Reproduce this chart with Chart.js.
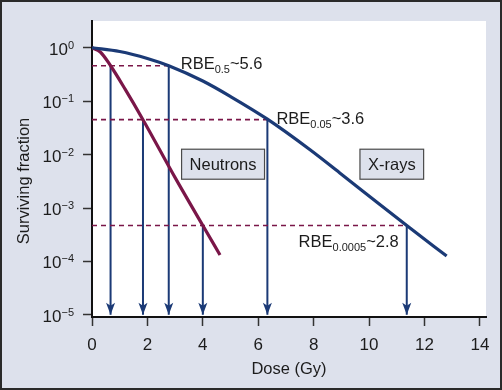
<!DOCTYPE html>
<html>
<head>
<meta charset="utf-8">
<script src="https://cdn.jsdelivr.net/npm/chart.js@4.4.1/dist/chart.umd.min.js"></script>
<style>
  html, body { margin: 0; padding: 0; background: #dde1ec; }
  #wrap { width: 502px; height: 390px; }
</style>
</head>
<body>
<div id="wrap"><canvas id="chart" width="502" height="390"></canvas></div>
<script>
// --- Data ---
const doseTicks = [0, 2, 4, 6, 8, 10, 12, 14];
const survTicks = [1, 1e-1, 1e-2, 1e-3, 1e-4, 1e-5];
const survTickBase = "10";
const survTickExp = ["0", "−1", "−2", "−3", "−4", "−5"];

const xrayDose = [0, 1, 2, 2.77, 4, 5, 6.33, 7.87, 9, 10.4, 11.36, 12.8];
const xraySurv = [1, 0.85, 0.63, 0.46, 0.238, 0.122, 0.046, 0.0123, 0.0043, 0.00115, 0.00047, 0.000126];

const neutronDose = [0, 0.3, 0.67, 1.2, 1.84, 3, 4, 4.62];
const neutronSurv = [1, 0.83, 0.46, 0.166, 0.045, 0.0037, 0.00047, 0.000132];

// iso-effect levels and the dose each beam needs to reach them
const rbeLevels = [0.46, 0.045, 0.00047];
const rbeLevelText = ["0.5", "0.05", "0.0005"];
const rbeValueText = ["5.6", "3.6", "2.8"];
const neutronIsoDose = [0.67, 1.84, 4.0];
const xrayIsoDose = [2.77, 6.33, 11.36];
const arrowFloor = 1e-5;

// --- Styling / placement ---
const NAVY = "#1b3a76";
const MAROON = "#7a1648";
const BG = "#dde1ec";
const INK = "#1c1c1c";
const FONT = "'Liberation Sans', Arial, Helvetica, sans-serif";

const rbeLabelPos = [
  { dx: 12, dy: 3, align: "left" },
  { dx: 9, dy: 4.5, align: "left" },
  { dx: -8, dy: 21, align: "right" },
];
const boxLabels = [
  { text: "Neutrons", x: 4.73, y: 0.0066 },
  { text: "X-rays", x: 10.82, y: 0.0066 },
];

// --- Build datasets ---
const toPts = (xs, ys) => xs.map((x, i) => ({ x: x, y: ys[i] }));

const datasets = [
  {
    label: "X-rays",
    data: toPts(xrayDose, xraySurv),
    borderColor: NAVY,
    borderWidth: 3.2,
    pointRadius: 0,
    cubicInterpolationMode: "monotone",
  },
  {
    label: "Neutrons",
    data: toPts(neutronDose, neutronSurv),
    borderColor: MAROON,
    borderWidth: 3.2,
    pointRadius: 0,
    cubicInterpolationMode: "monotone",
  },
];

rbeLevels.forEach((lvl, i) => {
  datasets.push({
    label: "level" + i,
    data: [{ x: 0, y: lvl }, { x: xrayIsoDose[i], y: lvl }],
    borderColor: MAROON,
    borderWidth: 1.6,
    borderDash: [5, 4],
    pointRadius: 0,
  });
});

rbeLevels.forEach((lvl, i) => {
  [neutronIsoDose[i], xrayIsoDose[i]].forEach((d) => {
    datasets.push({
      label: "arrow",
      data: [{ x: d, y: lvl }, { x: d, y: arrowFloor }],
      borderColor: NAVY,
      borderWidth: 2,
      pointRadius: 0,
      isArrow: true,
    });
  });
});

// --- Extra drawing: background, arrowheads, labels ---
const decor = {
  id: "decor",
  beforeDraw(chart) {
    const { ctx, chartArea: a, width, height } = chart;
    ctx.save();
    ctx.fillStyle = BG;
    ctx.fillRect(0, 0, width, height);
    ctx.fillStyle = "#ffffff";
    ctx.fillRect(a.left, a.top, a.right - a.left, a.bottom - a.top);
    ctx.strokeStyle = "#2a2a2a";
    ctx.lineWidth = 3;
    ctx.strokeRect(0.5, 0.5, width - 1, height - 1);
    ctx.restore();
  },
  afterDraw(chart) {
    // y tick labels: 10 with a raised exponent, right aligned at the tick
    const { ctx } = chart;
    const ys = chart.scales.y;
    const right = ys.right - 18;
    ctx.save();
    ctx.fillStyle = INK;
    ctx.textAlign = "left";
    ctx.textBaseline = "alphabetic";
    survTicks.forEach((v, i) => {
      const ty = ys.getPixelForValue(v);
      ctx.font = "11px " + FONT;
      const we = ctx.measureText(survTickExp[i]).width;
      ctx.font = "17px " + FONT;
      const wb = ctx.measureText(survTickBase).width;
      const x0 = right - we - wb;
      ctx.fillText(survTickBase, x0, ty + 7);
      ctx.font = "11px " + FONT;
      ctx.fillText(survTickExp[i], x0 + wb, ty + 1);
    });
    ctx.restore();
  },
  afterDatasetsDraw(chart) {
    const { ctx } = chart;
    const xs = chart.scales.x, ys = chart.scales.y;
    ctx.save();

    // arrowheads on the bottom end of each vertical line
    chart.data.datasets.forEach((ds, i) => {
      if (!ds.isArrow) return;
      const p = chart.getDatasetMeta(i).data[1];
      ctx.fillStyle = NAVY;
      ctx.beginPath();
      ctx.moveTo(p.x, p.y);
      ctx.lineTo(p.x - 4.5, p.y - 12);
      ctx.lineTo(p.x, p.y - 9);
      ctx.lineTo(p.x + 4.5, p.y - 12);
      ctx.closePath();
      ctx.fill();
    });

    // RBE labels with subscripts
    const big = "16.5px " + FONT, small = "11px " + FONT;
    rbeLevels.forEach((lvl, i) => {
      const px = xs.getPixelForValue(xrayIsoDose[i]);
      const py = ys.getPixelForValue(lvl);
      const pos = rbeLabelPos[i];
      ctx.font = big;
      const w1 = ctx.measureText("RBE").width;
      const w3 = ctx.measureText("~" + rbeValueText[i]).width;
      ctx.font = small;
      const w2 = ctx.measureText(rbeLevelText[i]).width;
      let x = px + pos.dx;
      if (pos.align === "right") x -= w1 + w2 + w3;
      const y = py + pos.dy;
      ctx.fillStyle = INK;
      ctx.textAlign = "left";
      ctx.textBaseline = "alphabetic";
      ctx.font = big;
      ctx.fillText("RBE", x, y);
      ctx.font = small;
      ctx.fillText(rbeLevelText[i], x + w1, y + 4);
      ctx.font = big;
      ctx.fillText("~" + rbeValueText[i], x + w1 + w2, y);
    });

    // boxed curve names
    boxLabels.forEach((b) => {
      const cx = xs.getPixelForValue(b.x);
      const cy = ys.getPixelForValue(b.y);
      ctx.font = "16.5px " + FONT;
      const w = ctx.measureText(b.text).width + 16;
      const h = 30;
      ctx.fillStyle = BG;
      ctx.fillRect(cx - w / 2, cy - h / 2, w, h);
      ctx.strokeStyle = "#4a4a4a";
      ctx.lineWidth = 1.2;
      ctx.strokeRect(cx - w / 2, cy - h / 2, w, h);
      ctx.fillStyle = INK;
      ctx.textAlign = "center";
      ctx.textBaseline = "middle";
      ctx.fillText(b.text, cx, cy + 1);
    });

    // y axis title
    ctx.translate(24, 181);
    ctx.rotate(-Math.PI / 2);
    ctx.font = "16.5px " + FONT;
    ctx.fillStyle = INK;
    ctx.textAlign = "center";
    ctx.textBaseline = "middle";
    ctx.fillText("Surviving fraction", 0, 0);
    ctx.restore();
  },
};

Chart.defaults.font.family = FONT;
Chart.defaults.font.size = 17;
Chart.defaults.color = INK;

new Chart(document.getElementById("chart"), {
  type: "line",
  data: { datasets: datasets },
  options: {
    responsive: false,
    animation: false,
    devicePixelRatio: 1,
    layout: { padding: { top: 21, right: 16, left: 0, bottom: 0 } },
    plugins: { legend: { display: false }, tooltip: { enabled: false } },
    scales: {
      x: {
        type: "linear",
        min: 0,
        max: 14.22,
        grid: { drawOnChartArea: false, tickLength: 9, color: "#333", tickWidth: 1.5 },
        border: { color: "#111", width: 2 },
        ticks: { padding: 9, font: { size: 17 } },
        title: { display: true, text: "Dose (Gy)", font: { size: 16.5 }, padding: { top: 0, bottom: 11 } },
        afterBuildTicks: (s) => { s.ticks = doseTicks.map((v) => ({ value: v })); },
        afterFit: (s) => { s.height = 73; },
      },
      y: {
        type: "logarithmic",
        min: Math.pow(10, -5.04),
        max: Math.pow(10, 0.5),
        grid: { drawOnChartArea: false, tickLength: 9, color: "#333", tickWidth: 1.5 },
        border: { color: "#111", width: 2 },
        ticks: { display: false },
        afterBuildTicks: (s) => { s.ticks = survTicks.map((v) => ({ value: v })); },
        afterFit: (s) => { s.width = 92; },
      },
    },
  },
  plugins: [decor],
});
</script>
</body>
</html>
